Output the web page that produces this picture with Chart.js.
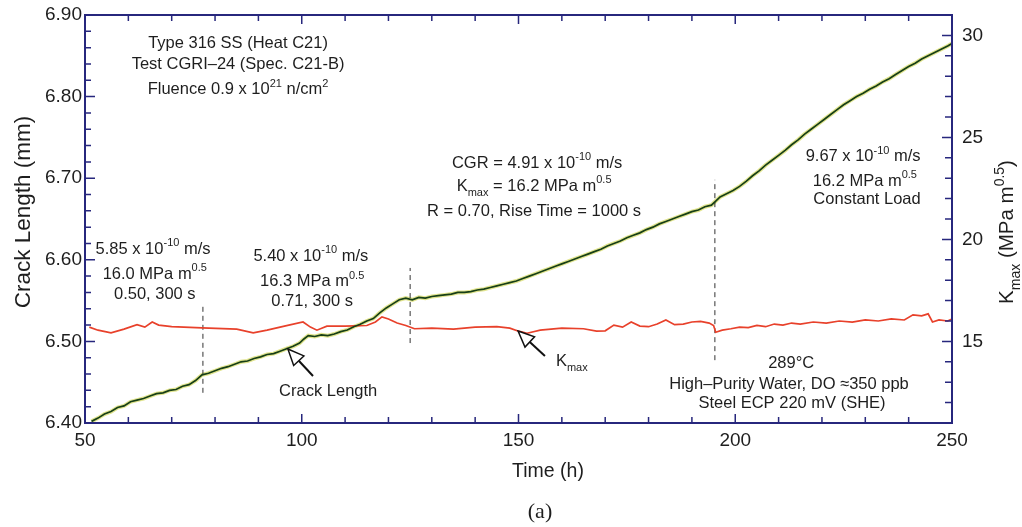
<!DOCTYPE html>
<html><head><meta charset="utf-8">
<script src="https://cdn.jsdelivr.net/npm/chart.js@4.4.0/dist/chart.umd.min.js"></script>
<style>html,body{margin:0;padding:0;background:#fff}#wrap{width:1022px;height:527px;position:relative}</style>
</head><body><div id="wrap"><canvas id="c"></canvas></div>
<script>
// ---------- data ----------
const crackTime = [51.5,53,54.5,56,57.5,59,60.5,62,63.5,65,66.5,68,69.5,71,72.5,74,75.5,77,78.5,80,81.5,83,84.5,86,87.5,89,90.5,92,93.5,95,96.5,98,99.5,100.5,101.5,103,104.5,106,107.5,109,110.5,112,113.5,115,116.5,118,119.5,121,122.5,124,125.5,127,128.5,130,131.5,133,134.5,136,137.5,139,140.5,142,143.5,145,146.5,148,149.5,151,152.5,154,155.5,157,158.5,160,161.5,163,164.5,166,167.5,169,170.5,172,173.5,175,176.5,178,179.5,181,182.5,184,185.5,187,188.5,190,191.5,193,194.5,195.5,196.5,198,199.5,201,202.5,204,205.5,207,208.5,210,211.5,213,214.5,216,217.5,219,220.5,222,223.5,225,226.5,228,229.5,231,232.5,234,235.5,237,238.5,240,241.5,243,244.5,246,247.5,249,250];
const crackLen = [6.402,6.406,6.411,6.414,6.419,6.421,6.426,6.428,6.430,6.433,6.436,6.437,6.440,6.441,6.445,6.447,6.452,6.459,6.461,6.464,6.467,6.469,6.472,6.475,6.476,6.479,6.481,6.484,6.485,6.488,6.491,6.494,6.498,6.503,6.507,6.506,6.508,6.507,6.509,6.512,6.514,6.518,6.521,6.525,6.528,6.535,6.541,6.546,6.551,6.553,6.551,6.554,6.553,6.555,6.556,6.557,6.558,6.560,6.560,6.561,6.563,6.564,6.566,6.568,6.570,6.572,6.574,6.577,6.580,6.583,6.586,6.589,6.592,6.595,6.598,6.601,6.604,6.607,6.610,6.613,6.617,6.620,6.623,6.627,6.630,6.633,6.637,6.640,6.644,6.647,6.650,6.653,6.656,6.659,6.661,6.665,6.667,6.672,6.677,6.681,6.685,6.690,6.696,6.703,6.709,6.716,6.722,6.728,6.734,6.741,6.747,6.754,6.760,6.766,6.772,6.778,6.784,6.790,6.795,6.800,6.804,6.809,6.813,6.818,6.822,6.827,6.832,6.837,6.841,6.846,6.850,6.854,6.858,6.862,6.865];
const kTime = [51,53,56,59,62,63.8,65.5,67,70,77,85,88.8,92,96,100.3,102,103.5,105.8,110,115,117,118.5,120,122,124,126,130,135,140,145,148,150,152,155,160,165,168,170,172,174,176,178,180,182,184,186,188,190,192,194,195,195.5,197,199,201,203,205,207,209,211,213,215,218,221,224,227,230,233,236,239,241,243,244.5,245.5,247,249,250];
const kMax = [15.70,15.55,15.42,15.60,15.82,15.70,15.95,15.80,15.72,15.66,15.60,15.42,15.55,15.75,15.95,15.70,15.55,15.75,15.75,15.78,15.95,16.20,16.10,15.90,15.78,15.62,15.65,15.60,15.70,15.72,15.65,15.50,15.40,15.55,15.65,15.62,15.50,15.52,15.80,15.70,15.95,15.75,15.72,15.85,16.05,15.82,15.85,15.95,15.98,15.90,15.78,15.45,15.55,15.62,15.70,15.68,15.78,15.72,15.85,15.80,15.90,15.85,15.95,15.90,16.00,15.95,16.05,16.00,16.10,16.05,16.30,16.25,16.35,15.95,16.05,16.00,16.10];
const markerTimes = [77.2, 125, 195.3];
const markerLow = [6.437, 6.498, 6.477];
const markerHigh = [6.547, 6.590, 6.698];
const xTickLabels = [50, 100, 150, 200, 250];
const leftTickLabels = [6.40, 6.50, 6.60, 6.70, 6.80, 6.90];
const rightTickLabels = [15, 20, 25, 30];

// ---------- style ----------
const FONT = '"Liberation Sans", Arial, sans-serif';
const NAVY = '#27277d';
const TXT = '#1e1e1e';

const pts = (xs, ys) => xs.map((x, i) => ({x, y: ys[i]}));
const datasets = [
  {data: pts(crackTime, crackLen), yAxisID: 'y', borderColor: '#173f17', borderWidth: 1.7, order: 1},
  {data: pts(crackTime, crackLen), yAxisID: 'y', borderColor: 'rgba(200,205,50,0.55)', borderWidth: 4, order: 6},
  {data: pts(kTime, kMax), yAxisID: 'y1', borderColor: '#e8412b', borderWidth: 1.7, order: 2}
];
markerTimes.forEach((t, i) => datasets.push({
  data: [{x: t, y: markerLow[i]}, {x: t, y: markerHigh[i]}], yAxisID: 'y',
  borderColor: '#333', borderWidth: 1, borderDash: [5, 4], order: 3
}));
datasets.forEach(d => { d.pointRadius = 0; d.tension = 0; d.fill = false; });

// annotations anchored in data coordinates (hours, mm)
const notes = [
  {t: 85.3, c: 6.867, p: [['Type 316 SS (Heat C21)']]},
  {t: 85.3, c: 6.841, p: [['Test CGRI\u201324 (Spec. C21-B)']]},
  {t: 85.3, c: 6.8105, p: [['Fluence 0.9 x 10'], ['21', 1], [' n/cm'], ['2', 1]]},
  {t: 65.7, c: 6.6145, p: [['5.85 x 10'], ['-10', 1], [' m/s']]},
  {t: 66.1, c: 6.584, p: [['16.0 MPa m'], ['0.5', 1]]},
  {t: 66.1, c: 6.559, p: [['0.50, 300 s']]},
  {t: 102.1, c: 6.606, p: [['5.40 x 10'], ['-10', 1], [' m/s']]},
  {t: 102.4, c: 6.575, p: [['16.3 MPa m'], ['0.5', 1]]},
  {t: 102.4, c: 6.551, p: [['0.71, 300 s']]},
  {t: 154.3, c: 6.720, p: [['CGR = 4.91 x 10'], ['-10', 1], [' m/s']]},
  {t: 153.6, c: 6.692, p: [['K'], ['max', -1], [' = 16.2 MPa m'], ['0.5', 1]]},
  {t: 153.6, c: 6.661, p: [['R = 0.70, Rise Time = 1000 s']]},
  {t: 229.5, c: 6.728, p: [['9.67 x 10'], ['-10', 1], [' m/s']]},
  {t: 229.9, c: 6.698, p: [['16.2 MPa m'], ['0.5', 1]]},
  {t: 230.4, c: 6.676, p: [['Constant Load']]},
  {t: 212.9, c: 6.475, p: [['289\u00b0C']]},
  {t: 212.4, c: 6.449, p: [['High\u2013Purity Water, DO \u2248350 ppb']]},
  {t: 213.1, c: 6.426, p: [['Steel ECP 220 mV (SHE)']]},
  {t: 106.1, c: 6.440, p: [['Crack Length']]},
  {t: 162.3, c: 6.477, p: [['K'], ['max', -1]]}
];
const arrows = [
  {t1: 102.6, c1: 6.4576, t2: 96.8, c2: 6.4907},
  {t1: 156.1, c1: 6.482, t2: 149.9, c2: 6.5127}
];

function rich(ctx, parts, x, y, size, align) {
  const small = Math.round(size * 0.68);
  let w = 0;
  const ws = parts.map(([s, m]) => { ctx.font = (m ? small : size) + 'px ' + FONT; const v = ctx.measureText(s).width; w += v; return v; });
  let cx = align === 'left' ? x : x - w / 2;
  const base = y + size * 0.36;
  ctx.textBaseline = 'alphabetic'; ctx.textAlign = 'left';
  parts.forEach(([s, m], i) => {
    ctx.font = (m ? small : size) + 'px ' + FONT;
    const dy = m === 1 ? -size * 0.45 : (m === -1 ? size * 0.3 : 0);
    ctx.fillText(s, cx, base + dy);
    cx += ws[i];
  });
}

const decor = {
  id: 'decor',
  afterDatasetsDraw(chart) {
    const ctx = chart.ctx, {left, right, top, bottom} = chart.chartArea;
    const sx = chart.scales.x, sy = chart.scales.y, sy1 = chart.scales.y1;
    ctx.save();
    // frame
    ctx.strokeStyle = NAVY; ctx.lineWidth = 2;
    ctx.strokeRect(left, top, right - left, bottom - top);
    ctx.lineWidth = 1.5;
    ctx.beginPath();
    sx.ticks.forEach(tk => {
      const p = sx.getPixelForValue(tk.value); const len = tk.value % 50 === 0 ? 9 : 6;
      ctx.moveTo(p, bottom); ctx.lineTo(p, bottom - len);
      ctx.moveTo(p, top); ctx.lineTo(p, top + len);
    });
    sy.ticks.forEach(tk => {
      const p = sy.getPixelForValue(tk.value);
      const maj = Math.abs(tk.value * 10 - Math.round(tk.value * 10)) < 1e-6;
      ctx.moveTo(left, p); ctx.lineTo(left + (maj ? 10 : 6), p);
    });
    sy1.ticks.forEach(tk => {
      const p = sy1.getPixelForValue(tk.value);
      ctx.moveTo(right, p); ctx.lineTo(right - (tk.value % 5 === 0 ? 10 : 7), p);
    });
    ctx.stroke();
    // annotations
    ctx.fillStyle = TXT;
    notes.forEach(n => rich(ctx, n.p, sx.getPixelForValue(n.t), sy.getPixelForValue(n.c), 16.5, 'center'));
    // arrows
    arrows.forEach(a => {
      const x1 = sx.getPixelForValue(a.t1), y1 = sy.getPixelForValue(a.c1);
      const x2 = sx.getPixelForValue(a.t2), y2 = sy.getPixelForValue(a.c2);
      const ang = Math.atan2(y2 - y1, x2 - x1), ux = Math.cos(ang), uy = Math.sin(ang);
      const hl = 16, hw = 7;
      const bx = x2 - ux * hl, by = y2 - uy * hl;
      ctx.strokeStyle = '#111'; ctx.lineWidth = 2;
      ctx.beginPath(); ctx.moveTo(x1, y1); ctx.lineTo(bx, by); ctx.stroke();
      ctx.beginPath(); ctx.moveTo(x2, y2);
      ctx.lineTo(bx - uy * hw, by + ux * hw); ctx.lineTo(bx + uy * hw, by - ux * hw); ctx.closePath();
      ctx.fillStyle = '#fff'; ctx.fill(); ctx.lineWidth = 1.5; ctx.stroke();
    });
    // axis titles
    ctx.fillStyle = TXT;
    ctx.save(); ctx.translate(22, 212); ctx.rotate(-Math.PI / 2);
    rich(ctx, [['Crack Length (mm)']], 0, 0, 22.5, 'center'); ctx.restore();
    ctx.save(); ctx.translate(1006, 232); ctx.rotate(-Math.PI / 2);
    rich(ctx, [['K'], ['max', -1], [' (MPa m'], ['0.5', 1], [')']], 0, 0, 20.5, 'center'); ctx.restore();
    rich(ctx, [['Time (h)']], 548, 470, 19.5, 'center');
    ctx.font = '22px "Liberation Serif", "Times New Roman", serif';
    ctx.textAlign = 'center'; ctx.textBaseline = 'middle';
    ctx.fillText('(a)', 540, 512);
    ctx.restore();
  }
};

function fixBox(w, h) {
  return s => {
    if (w !== null) s.width = w;
    if (h !== null) s.height = h;
    s.paddingTop = 0; s.paddingBottom = 0; s.paddingLeft = 0; s.paddingRight = 0;
  };
}

const tickFont = {family: FONT, size: 19};
new Chart(document.getElementById('c'), {
  type: 'line',
  data: {datasets},
  options: {
    responsive: true, maintainAspectRatio: false, animation: false, devicePixelRatio: 1,
    layout: {padding: {top: 15, left: 0, right: 0, bottom: 0}},
    plugins: {legend: {display: false}, tooltip: {enabled: false}},
    scales: {
      x: {type: 'linear', min: 50, max: 250, afterFit: fixBox(null, 104),
        grid: {display: false, drawTicks: false}, border: {display: false},
        ticks: {stepSize: 10, padding: 6, maxRotation: 0, autoSkip: false, font: tickFont, color: TXT,
          callback: v => xTickLabels.includes(v) ? String(v) : ''}},
      y: {type: 'linear', position: 'left', min: 6.40, max: 6.90, afterFit: fixBox(85, null),
        grid: {display: false, drawTicks: false}, border: {display: false},
        ticks: {stepSize: 0.02, padding: 3, autoSkip: false, font: tickFont, color: TXT,
          callback: v => { const l = leftTickLabels.find(a => Math.abs(a - v) < 1e-6); return l === undefined ? '' : l.toFixed(2); }}},
      y1: {type: 'linear', position: 'right', min: 11, max: 31, afterFit: fixBox(70, null),
        grid: {display: false, drawTicks: false}, border: {display: false},
        ticks: {stepSize: 1, padding: 10, autoSkip: false, font: tickFont, color: TXT,
          callback: v => rightTickLabels.includes(v) ? String(v) : ''}}
    }
  },
  plugins: [decor]
});
</script>
</body></html>
